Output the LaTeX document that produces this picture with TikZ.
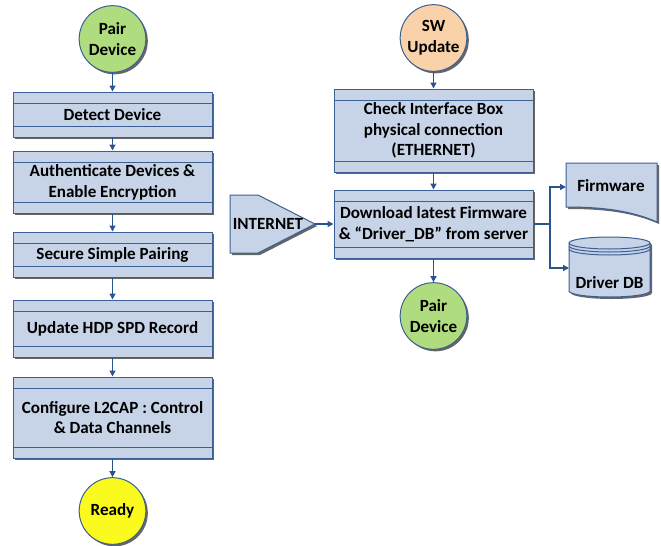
\documentclass[tikz,border=0pt]{standalone}
\usepackage{fontspec}
\setmainfont{Carlito}
\usetikzlibrary{shadows,arrows.meta}

\definecolor{boxfill}{RGB}{199,211,230}
\definecolor{boxline}{RGB}{60,95,148}
\definecolor{arrowblue}{RGB}{44,84,140}
\definecolor{pairgreen}{RGB}{176,220,128}
\definecolor{swpeach}{RGB}{250,210,170}
\definecolor{readyyellow}{RGB}{250,250,30}

\tikzset{
	boxshadow/.style={drop shadow={shadow xshift=1.5pt,shadow yshift=-1.5pt,fill=black!80,opacity=0.75}},
	txt/.style={font=\bfseries\fontsize{12.8}{15.6}\selectfont, align=center, text=black, inner sep=0pt},
	stepbox/.style={txt, rectangle, draw=boxline, fill=boxfill, line width=0.75pt, boxshadow, minimum width=149.25pt,
		path picture={
			\draw[boxline, line width=0.75pt] ([yshift=-8.25pt]path picture bounding box.north west) -- ([yshift=-8.25pt]path picture bounding box.north east);
			\draw[boxline, line width=0.75pt] ([yshift=8.25pt]path picture bounding box.south west) -- ([yshift=8.25pt]path picture bounding box.south east);
		}},
	terminal/.style={txt, circle, draw=boxline, line width=0.75pt, minimum size=50pt, boxshadow},
	shapeline/.style={draw=boxline, fill=boxfill, line width=0.75pt},
	shadowfill/.style={fill=black!80, opacity=0.75, shift={(2,2)}},
	flow/.style={arrowblue, line width=1pt, -{Triangle[length=4.5pt,width=4.5pt]}},
}

\begin{document}
\begin{tikzpicture}[x=0.75pt,y=-0.75pt]
	\useasboundingbox (0,0) rectangle (661,546);
	
	% Left column
	\node[terminal, fill=pairgreen] (pair) at (112.5,39) {Pair\\Device};
	\node[stepbox, minimum height=33.75pt] (detect) at (112.5,114.5) {Detect Device};
	\node[stepbox, minimum height=46.5pt] (auth) at (112.5,182) {Authenticate Devices \&\\Enable Encryption};
	\node[stepbox, minimum height=33.75pt] (ssp) at (112.5,254.5) {Secure Simple Pairing};
	\node[stepbox, minimum height=42.75pt] (hdp) at (112.5,328.5) {Update HDP SPD Record};
	\node[stepbox, minimum height=60.75pt] (l2cap) at (112.5,417.5) {Configure L2CAP : Control\\\& Data Channels};
	\node[terminal, fill=readyyellow] (ready) at (112.5,511) {Ready};
	
	\draw[flow] (pair) -- (detect);
	\draw[flow] (detect) -- (auth);
	\draw[flow] (auth) -- (ssp);
	\draw[flow] (ssp) -- (hdp);
	\draw[flow] (hdp) -- (l2cap);
	\draw[flow] (l2cap) -- (ready);
	
	% Right column
	\node[terminal, fill=swpeach] (sw) at (433.5,38) {SW\\Update};
	\node[stepbox, minimum height=62.25pt] (check) at (433.5,130.5) {Check Interface Box\\physical connection\\(ETHERNET)};
	\node[stepbox, minimum height=51pt] (download) at (433.5,224) {Download latest Firmware\\\& \textquotedblleft Driver\_DB\textquotedblright{} from server};
	\node[terminal, fill=pairgreen] (pairdev) at (433.5,316) {Pair\\Device};
	
	\draw[flow] (sw) -- (check);
	\draw[flow] (check) -- (download);
	\draw[flow] (download) -- (pairdev);
	
	% Internet
	\coordinate (inettip) at (315,224);
	\fill[shadowfill] (230,195) -- (258,195) -- (315,224) -- (258,253) -- (230,253) -- cycle;
	\path[shapeline] (230,195) -- (258,195) -- (inettip) -- (258,253) -- (230,253) -- cycle;
	\node[txt] (inet) at (268,224) {INTERNET};
	\draw[flow] (inettip) -- (download);
	
	% Firmware document
	\fill[shadowfill] (566,163) -- (657,163) -- (657,222) .. controls (630,210) and (600,207) .. (566,207) -- cycle;
	\path[shapeline] (566,163) -- (657,163) -- (657,222) .. controls (630,210) and (600,207) .. (566,207) -- cycle;
	\node[txt] (fw) at (611,186) {Firmware};
	
	% Driver DB cylinder
	\fill[shadowfill] (569,243) -- (569,291) arc[start angle=180,end angle=360,x radius=30.375pt,y radius=4.5pt]
		-- (650,243) arc[start angle=0,end angle=180,x radius=30.375pt,y radius=4.5pt] -- cycle;
	\path[shapeline] (569,243) -- (569,291) arc[start angle=180,end angle=360,x radius=30.375pt,y radius=4.5pt]
		-- (650,243) arc[start angle=0,end angle=180,x radius=30.375pt,y radius=4.5pt] -- cycle;
	\draw[boxline, line width=0.75pt] (569,243) arc[start angle=180,end angle=360,x radius=30.375pt,y radius=4.5pt];
	\draw[boxline, line width=0.75pt] (569,246) arc[start angle=180,end angle=360,x radius=30.375pt,y radius=4.5pt];
	\draw[boxline, line width=0.75pt] (569,249) arc[start angle=180,end angle=360,x radius=30.375pt,y radius=4.5pt];
	\node[txt] (db) at (609.5,283) {Driver DB};
	
	% Branch to outputs
	\coordinate (fork) at (550,224);
	\coordinate (fwin) at (566,187);
	\coordinate (dbin) at (569,268);
	\draw[arrowblue, line width=1pt] (download) -- (fork);
	\draw[flow] (fork) |- (fwin);
	\draw[flow] (fork) |- (dbin);
	
\end{tikzpicture}
\end{document}
